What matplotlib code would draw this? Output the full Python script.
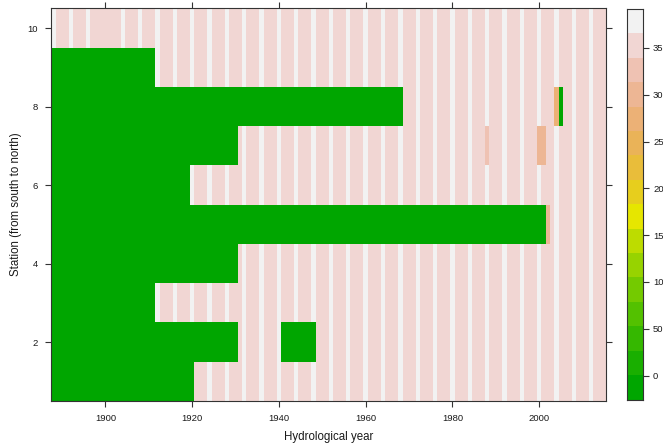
import calendar
import colorsys
import numpy as np
import matplotlib
matplotlib.use("Agg")
import matplotlib.pyplot as plt
from matplotlib.colors import ListedColormap, BoundaryNorm

# =========================
# Data
# =========================

years = np.arange(1888, 2016)
stations = np.arange(1, 11)

# first hydrological year with data, station 1 (south) .. 10 (north)
record_start = [1921, 1931, 1912, 1931, 2002, 1920, 1931, 1969, 1912, 1888]

# years without data after the record started: (station, first, last)
gaps = [(2, 1941, 1948), (8, 2005, 2005)]

# incomplete years: (station, year, days with data)
partial = [(5, 2002, 300), (7, 1988, 330), (7, 2000, 300),
           (7, 2001, 300), (8, 2004, 275)]

key_ticks = [0, 50, 100, 150, 200, 250, 300, 350]
key_labels = ["0", "50", "10", "15", "20", "25", "30", "35"]

# =========================
# Build matrix
# =========================

full_days = np.array([366 if calendar.isleap(y) else 365 for y in years])

days = np.zeros((len(stations), len(years)))
for i, start in enumerate(record_start):
    days[i, years >= start] = full_days[years >= start]
for st, y0, y1 in gaps:
    days[st - 1, (years >= y0) & (years <= y1)] = 0
for st, y, d in partial:
    days[st - 1, years == y] = d

# =========================
# terrain.colors(16) like lattice
# =========================

n = 16
k = n // 2
cols = []
for h, s, v in zip(np.linspace(4 / 12, 2 / 12, k), np.ones(k),
                   np.linspace(0.65, 0.9, k)):
    cols.append(colorsys.hsv_to_rgb(h, s, v))
for h, s, v in zip(np.linspace(2 / 12, 0, n - k + 1)[1:],
                   np.linspace(1, 0, n - k + 1)[1:],
                   np.linspace(0.9, 0.95, n - k + 1)[1:]):
    cols.append(colorsys.hsv_to_rgb(h, s, v))

lo, hi = days.min(), days.max()
ext = 0.07 * (hi - lo)
at = np.linspace(lo - ext, hi + ext, n + 1)

cmap = ListedColormap(cols)
norm = BoundaryNorm(at, cmap.N)

# =========================
# Plot
# =========================

plt.rcParams['font.family'] = ['Liberation Sans', 'DejaVu Sans']

W, H = 663, 444
fig = plt.figure(figsize=(W / 100, H / 100), dpi=100)

frame_col = '#333333'
text_col = '#1a1a1a'

ax = fig.add_axes([51.3 / W, (H - 400.9) / H, (606.3 - 51.3) / W, 392.5 / H])

x_edges = np.append(years - 0.5, years[-1] + 0.5)
y_edges = np.append(stations - 0.5, stations[-1] + 0.5)

ax.pcolormesh(x_edges, y_edges, days, cmap=cmap, norm=norm,
              edgecolors='none', antialiased=False)

ax.set_xlim(x_edges[0], x_edges[-1])
ax.set_ylim(y_edges[0], y_edges[-1])

ax.set_xticks([1900, 1920, 1940, 1960, 1980, 2000])
ax.set_yticks([2, 4, 6, 8, 10])

ax.tick_params(direction='out', length=4.5, width=0.8, color=frame_col,
               labelsize=6.8, labelcolor=text_col,
               top=True, right=True, pad=5)

for sp in ax.spines.values():
    sp.set_color(frame_col)
    sp.set_linewidth(0.8)

ax.set_xlabel("Hydrological year", fontsize=8.3, color=text_col, labelpad=6)
ax.set_ylabel("Station (from south to north)", fontsize=8.3,
              color=text_col, labelpad=4)

# =========================
# Colour key
# =========================

cax = fig.add_axes([627.3 / W, (H - 399.5) / H, 16 / W, 390.5 / H])

for j in range(n):
    cax.axhspan(at[j], at[j + 1], color=cols[j], lw=0)

cax.set_ylim(at[0], at[-1])
cax.set_xlim(0, 1)
cax.set_xticks([])
cax.yaxis.tick_right()
cax.set_yticks(key_ticks)
cax.set_yticklabels(key_labels)
cax.tick_params(axis='y', direction='out', length=4, width=0.8,
                color=frame_col, labelsize=6.8, labelcolor=text_col, pad=3)

for sp in cax.spines.values():
    sp.set_color(frame_col)
    sp.set_linewidth(0.8)

fig.savefig("out.png", dpi=100)
